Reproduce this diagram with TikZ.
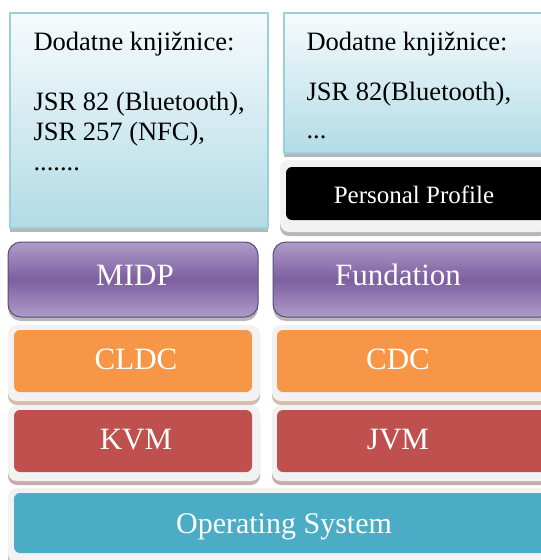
\documentclass[tikz,border=0pt]{standalone}
\usepackage{fontspec}
\setmainfont{Liberation Serif}
\usetikzlibrary{shadows}
\definecolor{libtop}{HTML}{F6FBFD}
\definecolor{libbot}{HTML}{B2DBE5}
\definecolor{libedge}{HTML}{9ACFDC}
\definecolor{purlight}{HTML}{AE9CC8}
\definecolor{purdark}{HTML}{7D5FA0}
\definecolor{puredge}{HTML}{5E4A7A}
\definecolor{cfgorange}{HTML}{F79646}
\definecolor{vmred}{HTML}{C0504D}
\definecolor{osblue}{HTML}{4BACC6}
\definecolor{rim}{HTML}{F2F2F2}
\tikzset{
  box/.style={anchor=north west,inner sep=0pt,outer sep=0pt},
  sz/.style 2 args={minimum width=#1pt,minimum height=#2pt},
  shade below/.style={drop shadow={shadow xshift=0pt,shadow yshift=-4pt,opacity=.4,fill=#1}},
  shade below/.default=black!70,
  libbox/.style={box,top color=libtop,bottom color=libbot,draw=libedge,line width=1.5pt,shade below},
  rimbox/.style={box,rounded corners=9pt,fill=rim,shade below=#1},
  rimbox/.default=black!70,
  layer/.style={box,rounded corners=6pt},
  profbox/.style={box,top color=purlight,bottom color=purlight,middle color=purdark,draw=puredge,line width=1pt,rounded corners=13pt,shade below},
  lbl/.style={anchor=base,text=white,font=\fontsize{31}{31}\selectfont},
  libtxt/.style={anchor=base west,font=\fontsize{26.5}{30}\selectfont},
}

\begin{document}
\begin{tikzpicture}[line cap=round,line join=round,x=1pt,y=-1pt]
\useasboundingbox[fill=white] (0,0) rectangle (541,560);
% optional libraries
\node[libbox,sz={258}{215}] (libL) at (10,13) {};
\node[libbox,sz={262}{140}] (libR) at (284,13) {};
\node[libtxt] (libL1) at (30,50) {Dodatne knjižnice:};
\node[libtxt] (libL2) at (30,110) {JSR 82 (Bluetooth),};
\node[libtxt] (libL3) at (30,140) {JSR 257 (NFC),};
\node[libtxt] (libL4) at (30,170) {.......};
\node[libtxt] (libR1) at (303,50) {Dodatne knjižnice:};
\node[libtxt] (libR2) at (303,100) {JSR 82(Bluetooth),};
\node[libtxt] (libR3) at (303,138) {...};
\node[rimbox,sz={268}{72}] (ppRim) at (280,160) {};
\node[layer,fill=black,sz={262}{53}] (pp) at (286,167) {};
\node[lbl,font=\fontsize{25}{25}\selectfont] (ppT) at (414,203) {Personal Profile};
% profiles
\node[profbox,sz={250}{75}] (midp) at (8,242) {};
\node[profbox,sz={280}{75}] (fund) at (273,242) {};
\node[lbl] (midpT) at (135,285) {MIDP};
\node[lbl] (fundT) at (398,285) {Fundation};
% configurations and virtual machines
\foreach \nm/\col/\y/\lt/\rt in {cfg/cfgorange/325/CLDC/CDC, vm/vmred/405/KVM/JVM} {
  \node[rimbox=\col!60!black,sz={252}{76}] (\nm LRim) at (8,\y) {};
  \node[rimbox=\col!60!black,sz={280}{76}] (\nm RRim) at (272,\y) {};
  \node[layer,fill=\col,sz={238}{62}] (\nm L) at (14,\y+5) {};
  \node[layer,fill=\col,sz={270}{62}] (\nm R) at (277,\y+5) {};
  \node[lbl] (\nm LT) at (136,\y+44) {\lt};
  \node[lbl] (\nm RT) at (398,\y+44) {\rt};
}
% operating system
\node[rimbox=osblue!60!black,sz={545}{75}] (osRim) at (8,488) {};
\node[layer,fill=osblue,sz={535}{60}] (os) at (14,493) {};
\node[lbl,font=\fontsize{30}{30}\selectfont] (osT) at (284,533) {Operating System};
\end{tikzpicture}
\end{document}
